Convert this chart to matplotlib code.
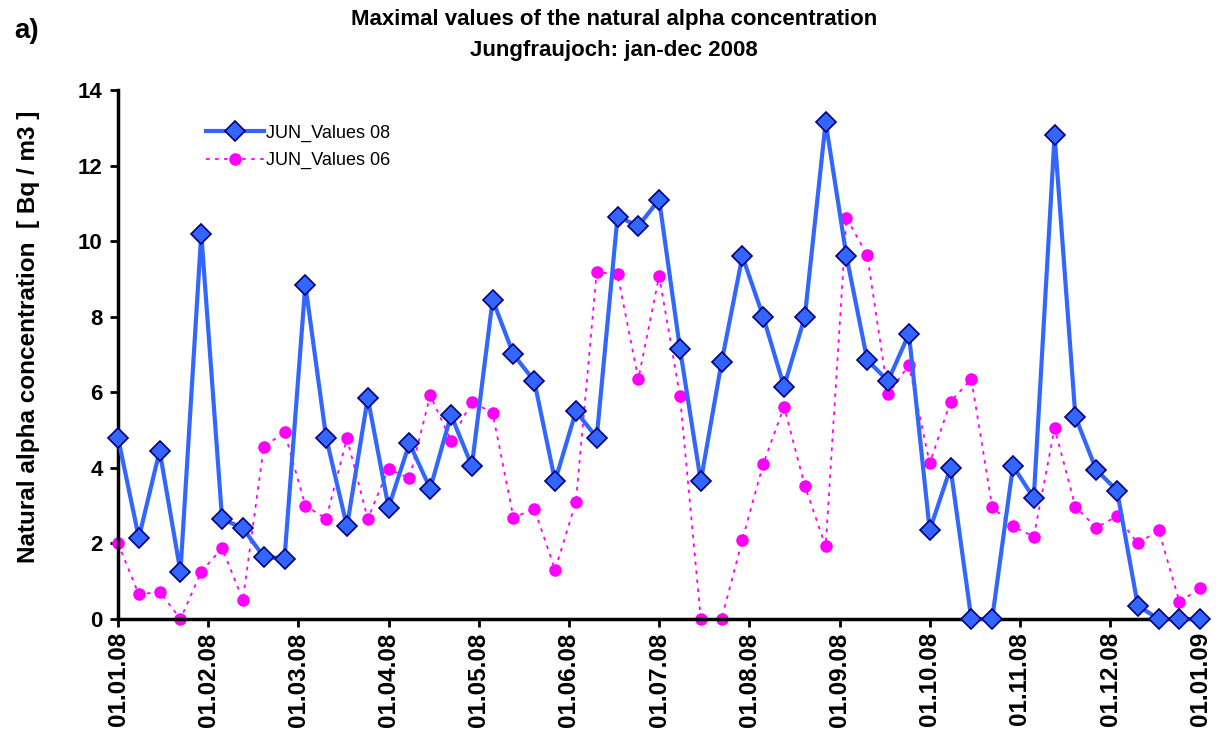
import matplotlib.pyplot as plt
import numpy as np

plt.rcParams['font.family'] = ['Liberation Sans', 'DejaVu Sans']

# Monatsbeschriftung der x-Achse
month_labels = ['01.01.08', '01.02.08', '01.03.08', '01.04.08', '01.05.08', '01.06.08',
                '01.07.08', '01.08.08', '01.09.08', '01.10.08', '01.11.08', '01.12.08',
                '01.01.09']

# Wochenwerte 2008 (53 Punkte)
values_08 = [4.8, 2.15, 4.45, 1.25, 10.2, 2.65, 2.4, 1.65, 1.6, 8.85,
             4.8, 2.45, 5.85, 2.95, 4.65, 3.45, 5.4, 4.05, 8.45, 7.0,
             6.3, 3.65, 5.5, 4.8, 10.65, 10.4, 11.1, 7.15, 3.65, 6.8,
             9.6, 8.0, 6.15, 8.0, 13.15, 9.6, 6.85, 6.3, 7.55, 2.35,
             4.0, 0.0, 0.0, 4.05, 3.2, 12.8, 5.35, 3.95, 3.4, 0.35,
             0.0, 0.0, 0.0]

# Vergleichswerte 2006
values_06 = [2.0, 0.65, 0.72, 0.0, 1.25, 1.88, 0.5, 4.55, 4.95, 3.0,
             2.65, 4.78, 2.65, 3.98, 3.72, 5.92, 4.72, 5.75, 5.45, 2.68,
             2.92, 1.3, 3.1, 9.18, 9.12, 6.35, 9.08, 5.9, 0.0, 0.0,
             2.1, 4.1, 5.62, 3.52, 1.92, 10.62, 9.62, 5.95, 6.72, 4.12,
             5.75, 6.35, 2.97, 2.45, 2.18, 5.05, 2.97, 2.42, 2.72, 2.0,
             2.35, 0.45, 0.82]

n = len(values_08)
x = np.arange(n) * 12 / (n - 1)

fig = plt.figure(figsize=(12.28, 7.40), dpi=100)
ax = fig.add_axes([0.0961, 0.1635, 0.885, 0.7149])

ax.plot(x, values_08, color='#3366FF', lw=3, marker='D', markersize=10,
        markerfacecolor='#3366FF', markeredgecolor='#000080', markeredgewidth=1.2,
        label='JUN_Values 08', clip_on=False, zorder=3)
ax.plot(x, values_06, color='#FF00FF', lw=1.3, ls=(0, (2, 3)), marker='o', markersize=8,
        markerfacecolor='#FF00FF', markeredgecolor='#FF00FF',
        label='JUN_Values 06', clip_on=False, zorder=2)

ax.set_xlim(0, 12.05)
ax.set_ylim(0, 14)
ax.set_xticks(range(13))
ax.set_xticklabels(month_labels, rotation=90, fontsize=17.5, fontweight='bold')
ax.set_yticks(range(0, 15, 2))
ax.set_yticklabels([str(v) for v in range(0, 15, 2)], fontsize=16, fontweight='bold')
ax.tick_params(direction='out', length=6, width=2)
ax.tick_params(axis='y', pad=5)

for s in ['top', 'right']:
    ax.spines[s].set_visible(False)
for s in ['left', 'bottom']:
    ax.spines[s].set_linewidth(2.5)

ax.set_ylabel('Natural alpha concentration  [ Bq / m3 ]', fontsize=17.5, fontweight='bold')
ax.yaxis.set_label_coords(-0.072, 0.533)

leg = ax.legend(loc='upper left', bbox_to_anchor=(0.066, 0.965), frameon=False, fontsize=13,
                handlelength=3.2, handletextpad=0.1, labelspacing=0.55)

fig.text(0.5, 0.953, 'Maximal values of the natural alpha concentration\nJungfraujoch: jan-dec 2008',
         ha='center', va='center', fontsize=16, fontweight='bold', linespacing=1.6)
fig.text(0.012, 0.958, 'a)', fontsize=20, fontweight='bold', va='center')

fig.savefig('out.png', dpi=100)
